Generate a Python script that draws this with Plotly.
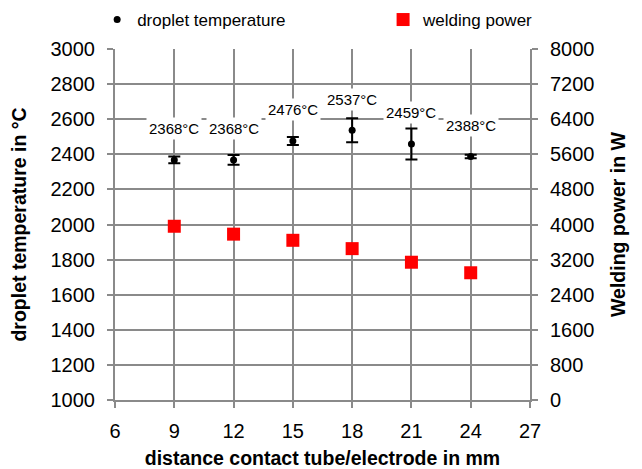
import plotly.graph_objects as go

distance = [9, 12, 15, 18, 21, 24]
temperature = [2368, 2368, 2476, 2537, 2459, 2388]
temp_err = [19, 28, 23, 68, 88, 10]
power = [3960, 3780, 3640, 3450, 3140, 2900]
temp_labels = [f"{t}°C" for t in temperature]

font_family = "Liberation Sans, Arial, sans-serif"
grid = "#8a8a8a"

fig = go.Figure()
fig.add_trace(go.Scatter(
    x=distance, y=temperature, mode="markers", name="droplet temperature",
    marker=dict(symbol="circle", size=7, color="black"),
    error_y=dict(type="data", array=temp_err, visible=True, color="black", thickness=2, width=6),
    legend="legend",
))
fig.add_trace(go.Scatter(
    x=distance, y=power, mode="markers", name="welding power",
    marker=dict(symbol="square", size=13, color="#ff0000"),
    yaxis="y2", legend="legend2",
))

for xv, yv, lab in zip(distance, temperature, temp_labels):
    fig.add_annotation(x=xv, y=yv, text=lab, showarrow=False, yshift=31,
                       bgcolor="white", borderpad=2,
                       font=dict(size=15, color="black", family=font_family))

common_axis = dict(showline=True, linecolor=grid, linewidth=2, zeroline=False,
                   ticks="outside", ticklen=6, tickwidth=2, tickcolor=grid,
                   tickfont=dict(size=20), automargin=False)

fig.update_layout(
    width=634, height=461,
    margin=dict(l=107, r=112, t=41, b=69),
    paper_bgcolor="white", plot_bgcolor="white",
    font=dict(family=font_family, color="black"),
    showlegend=True,
    legend=dict(xref="paper", yref="container", x=-0.043, y=0.974,
                xanchor="left", yanchor="middle",
                font=dict(size=17), bgcolor="rgba(0,0,0,0)", itemsizing="trace"),
    legend2=dict(xref="paper", yref="container", x=0.646, y=0.974,
                 xanchor="left", yanchor="middle",
                 font=dict(size=17), bgcolor="rgba(0,0,0,0)"),
    xaxis=dict(range=[6, 27], tick0=6, dtick=3, showgrid=True, gridcolor=grid, gridwidth=2,
               ticklabelstandoff=6,
               title=dict(text="<b>distance contact tube/electrode in mm</b>", font=dict(size=19.5), standoff=11),
               **common_axis),
    yaxis=dict(range=[1000, 3000], tick0=1000, dtick=200, showgrid=True, gridcolor=grid, gridwidth=2,
               ticklabelstandoff=8,
               title=dict(text="<b>droplet temperature in °C</b>", font=dict(size=19.5), standoff=26),
               **common_axis),
    yaxis2=dict(range=[0, 8000], tick0=0, dtick=800, overlaying="y", side="right",
                showgrid=False, ticklabelstandoff=8,
                title=dict(text="<b>Welding power in W</b>", font=dict(size=19.5), standoff=18),
                **common_axis),
)

fig.write_html("out.html")
